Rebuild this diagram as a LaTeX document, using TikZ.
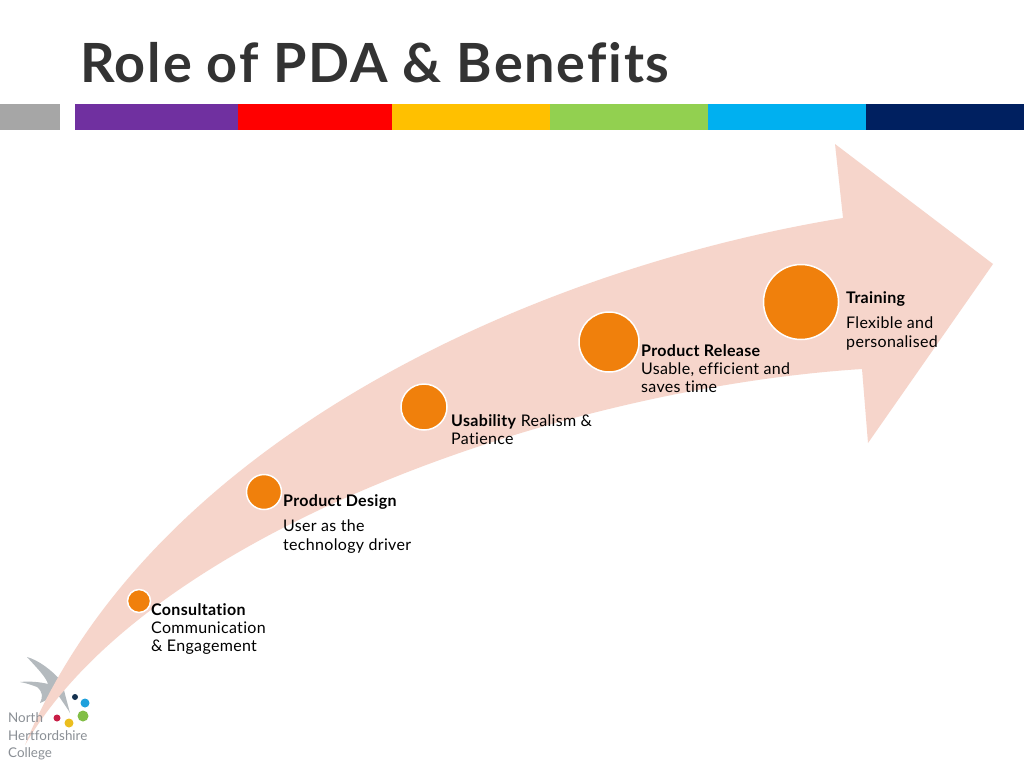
\documentclass[tikz,border=0pt]{standalone}
\usepackage{fontspec}
\setmainfont{Lato}[Ligatures=NoCommon,LetterSpace=2]
\newfontfamily\titlefont{Lato}[Ligatures=NoCommon,LetterSpace=3.4]
\newfontfamily\logofont{Lato}[Ligatures=NoCommon]
\definecolor{arrowfill}{HTML}{F6D5CB}
\definecolor{orangedot}{HTML}{F0800C}
\definecolor{inkdark}{HTML}{333333}
\definecolor{wing}{HTML}{B4BABE}
\definecolor{logotext}{HTML}{8A8F95}
\definecolor{bandgrey}{HTML}{A6A6A6}
\definecolor{bandpurple}{HTML}{7030A0}
\definecolor{bandyellow}{HTML}{FFC000}
\definecolor{bandgreen}{HTML}{92D050}
\definecolor{bandblue}{HTML}{00B0F0}
\definecolor{bandnavy}{HTML}{002060}
\definecolor{ballnavy}{HTML}{143250}
\definecolor{ballblue}{HTML}{1EA0DC}
\definecolor{ballgreen}{HTML}{82BE46}
\definecolor{ballyellow}{HTML}{EBBE1E}
\definecolor{ballred}{HTML}{C81E46}
\tikzset{
  dot/.style={circle,fill=orangedot,draw=white,line width=1.5pt,inner sep=0pt},
  lab/.style={anchor=north west,inner sep=0pt,align=left,font=\fontsize{16}{18.2}\selectfont,text=black},
  ball/.style={circle,fill=#1,inner sep=0pt,draw=none},
  logot/.style={anchor=west,inner sep=0pt,text=logotext,font=\logofont\fontsize{13.4}{14}\selectfont}
}
\begin{document}
\begin{tikzpicture}[x=1pt,y=-1pt]
\useasboundingbox[fill=white] (0,0) rectangle (1024,768);
\node[anchor=west,inner sep=0pt,text=inkdark,font=\titlefont\fontsize{54}{54}\selectfont\bfseries] (title) at (80,63) {Role of PDA \& Benefits};
\fill[bandgrey] (0,104) rectangle (60,130);
\fill[bandpurple] (75,104) rectangle (238,130);
\fill[red] (238,104) rectangle (392,130);
\fill[bandyellow] (392,104) rectangle (550,130);
\fill[bandgreen] (550,104) rectangle (708,130);
\fill[bandblue] (708,104) rectangle (866,130);
\fill[bandnavy] (866,104) rectangle (1024,130);
% logo bird
\fill[wing] (27,657) .. controls (38,660) and (52,670) .. (62,682) -- (66,698) -- (70,713) .. controls (66,706) and (61,700) .. (57,693) .. controls (52,696) and (46,701) .. (40,703) .. controls (43,697) and (43,692) .. (37,687) .. controls (32,685) and (26,683) .. (20,682) .. controls (30,681) and (40,682) .. (48,684) .. controls (46,677) and (37,668) .. (27,657) -- cycle;
% arrow
\fill[arrowfill] (25,745) .. controls (148,445) and (525,270) .. (843,218) -- (835,144) -- (993,264) -- (868,443) -- (862,369) .. controls (565,388) and (150,530) .. (25,745) -- cycle;
% logo text and balls
\node[logot] (l1) at (8,718) {North};
\node[logot] (l2) at (8,736) {Hertfordshire};
\node[logot] (l3) at (8,754) {College};
\node[ball=ballnavy,minimum size=6pt] (b1) at (75,697) {};
\node[ball=ballblue,minimum size=9pt] (b2) at (85,703) {};
\node[ball=ballgreen,minimum size=11pt] (b3) at (83,716) {};
\node[ball=ballyellow,minimum size=9pt] (b4) at (69,723) {};
\node[ball=ballred,minimum size=7pt] (b5) at (57,718) {};
% dots
\node[dot,minimum size=23pt] (d1) at (139,601) {};
\node[dot,minimum size=35pt] (d2) at (264,492) {};
\node[dot,minimum size=46pt] (d3) at (424,407) {};
\node[dot,minimum size=60pt] (d4) at (609,342) {};
\node[dot,minimum size=75pt] (d5) at (801,302) {};
% labels
\node[lab] (t1) at (151,603) {\textbf{Consultation}\\Communication\\\& Engagement};
\node[lab] (t2a) at (283,494) {\textbf{Product Design}};
\node[lab] (t2b) at (283,520) {User as the\\technology driver};
\node[lab] (t3) at (451,414) {\textbf{Usability} Realism \&\\Patience};
\node[lab] (t4) at (641,344) {\textbf{Product Release}\\Usable, efficient and\\saves time};
\node[lab] (t5a) at (846,291) {\textbf{Training}};
\node[lab] (t5b) at (846,317) {Flexible and\\personalised};
\end{tikzpicture}
\end{document}
